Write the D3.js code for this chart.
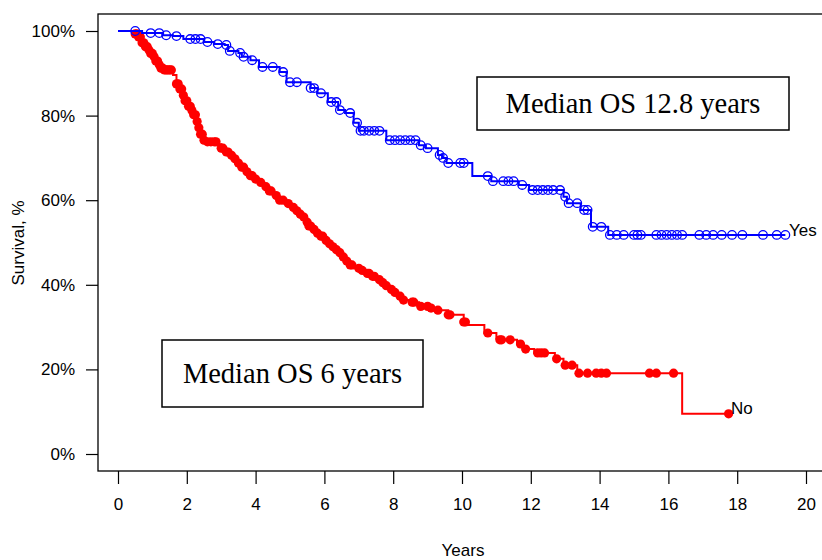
<!DOCTYPE html>
<html>
<head>
<meta charset="utf-8">
<script src="https://cdn.jsdelivr.net/npm/d3@7"></script>
<style>
  body { margin: 0; background: #fff; }
</style>
</head>
<body>
<script>
var width = 822,
    height = 560;

// Kaplan-Meier steps: [time (years), survival % after the drop]
var yesSteps = [[0,100],[0.7,99.5],[1.3,99],[1.6,98.8],[1.9,98.1],[2.5,97.4],[2.8,96.9],[3.1,96.7],
  [3.2,95.3],[3.5,94.8],[3.6,93.9],[3.85,93.1],[4.1,91.5],[4.7,90.3],[4.9,87.9],[5.6,86.5],[5.8,85.3],
  [6.1,83.2],[6.4,81.3],[6.6,80.6],[6.85,78.3],[7.0,76.4],[7.8,74.2],[8.75,73.0],[8.95,72.3],[9.3,70.7],
  [9.42,70.0],[9.55,68.8],[10.3,65.7],[10.85,64.5],[11.65,63.6],[11.95,62.4],[12.95,60.8],[13.05,59.3],
  [13.45,57.7],[13.75,53.7],[14.25,51.8]];
var yesCensor = [0.5,0.95,1.2,1.4,1.7,2.1,2.25,2.4,2.6,2.9,3.15,3.25,3.55,3.65,3.9,4.2,4.5,4.8,5.0,5.2,
  5.6,5.7,5.9,6.2,6.35,6.45,6.75,6.95,7.05,7.15,7.3,7.45,7.6,7.9,8.05,8.2,8.35,8.5,8.65,8.8,9.0,9.35,9.45,
  9.6,9.95,10.05,10.75,10.9,11.2,11.35,11.5,11.75,12.05,12.2,12.35,12.5,12.65,12.85,13.0,13.1,13.35,13.55,
  13.65,13.8,14.05,14.3,14.5,14.7,15.0,15.1,15.2,15.65,15.8,15.95,16.1,16.25,16.4,16.9,17.1,17.3,17.55,
  17.85,18.15,18.75,19.15,19.4];

var noSteps = [[0,100],[0.45,99.3],[0.6,98.6],[0.7,97.2],[0.8,96.3],[0.87,95.5],[0.95,94.7],[1.02,93.9],
  [1.1,92.9],[1.16,92.0],[1.25,91.2],[1.31,90.8],[1.6,89.6],[1.7,87.5],[1.78,86.3],[1.86,84.8],[1.95,83.5],
  [2.05,82.2],[2.12,81.2],[2.2,80.2],[2.28,78.6],[2.33,77.1],[2.4,75.6],[2.47,74.2],[2.55,73.8],[2.9,73.2],
  [3.0,72.3],[3.1,71.4],[3.25,70.6],[3.35,69.8],[3.45,68.8],[3.55,67.8],[3.68,66.7],[3.8,65.8],[3.95,65.0],
  [4.1,64.2],[4.25,63.2],[4.36,62.2],[4.5,61.1],[4.65,60.0],[4.85,59.2],[5.05,58.3],[5.15,57.5],[5.25,56.7],
  [5.35,56.0],[5.45,54.8],[5.52,53.9],[5.62,53.1],[5.75,52.2],[5.87,51.5],[6.0,50.5],[6.1,49.7],[6.2,49.0],
  [6.3,48.3],[6.4,47.6],[6.5,46.6],[6.6,45.6],[6.7,44.7],[6.85,43.9],[7.03,43.4],[7.2,42.7],[7.35,42.0],
  [7.5,41.2],[7.65,40.5],[7.76,39.8],[7.9,38.9],[8.0,38.2],[8.13,37.3],[8.26,36.4],[8.5,35.9],[8.75,34.9],
  [9.05,34.5],[9.25,34.0],[9.6,32.9],[10.05,31.2],[10.15,30.5],[10.65,28.6],[11.0,27.3],[11.1,27.0],
  [11.6,26.0],[11.8,24.8],[12.1,23.9],[12.7,22.5],[12.95,21.0],[13.35,19.1],[16.4,9.5]];
var noCensor = [0.5,0.55,0.6,0.65,0.7,0.75,0.8,0.85,0.9,0.95,1.0,1.05,1.1,1.15,1.2,1.25,1.3,1.35,1.4,1.45,
  1.5,1.55,1.7,1.75,1.8,1.85,1.9,1.95,2.0,2.05,2.1,2.15,2.2,2.25,2.3,2.35,2.4,2.45,2.5,2.6,2.7,2.8,2.85,
  3.0,3.05,3.15,3.2,3.3,3.4,3.5,3.6,3.65,3.75,3.85,3.9,4.0,4.15,4.3,4.4,4.45,4.6,4.7,4.8,4.95,5.1,5.2,
  5.3,5.4,5.5,5.55,5.6,5.7,5.8,5.9,5.95,6.05,6.15,6.25,6.35,6.45,6.55,6.65,6.75,6.8,7.0,7.1,7.25,7.3,
  7.4,7.45,7.6,7.7,7.8,7.95,8.05,8.2,8.3,8.55,8.6,8.8,9.0,9.1,9.3,9.6,9.65,10.05,10.1,10.75,11.1,11.15,
  11.4,11.7,11.85,12.2,12.3,12.4,12.75,13.0,13.2,13.4,13.65,13.9,14.05,14.2,15.45,15.65,16.15,17.75];

var xTicks = d3.range(0, 21, 2);
var yTicks = [0, 20, 40, 60, 80, 100];

var svg = d3.select("body").append("svg")
    .attr("width", width)
    .attr("height", height)
    .style("font-family", "Liberation Sans, Arial, sans-serif");

var x = d3.scaleLinear().domain([0, 20]).range([118, 806]);
var y = d3.scaleLinear().domain([0, 100]).range([454, 31]);

// plot frame
svg.append("rect")
    .attr("x", 98).attr("y", 14)
    .attr("width", 730).attr("height", 457)
    .attr("fill", "none").attr("stroke", "#000").attr("stroke-width", 1.3);

// axes
svg.append("g")
    .attr("transform", "translate(0,471)")
    .call(d3.axisBottom(x).tickValues(xTicks).tickSize(13).tickPadding(14).tickSizeOuter(0));
svg.append("g")
    .attr("transform", "translate(98,0)")
    .call(d3.axisLeft(y).tickValues(yTicks).tickFormat(function(d){ return d + "%"; })
      .tickSize(12).tickPadding(11).tickSizeOuter(0));
svg.selectAll(".domain").remove();
svg.selectAll(".tick line").attr("stroke", "#000").attr("stroke-width", 1.2);
svg.selectAll(".tick text")
    .style("font-family", "Liberation Sans, Arial, sans-serif")
    .attr("font-size", 17).attr("fill", "#000");

svg.append("text")
    .attr("x", 463).attr("y", 556)
    .attr("text-anchor", "middle").attr("font-size", 17)
    .text("Years");
svg.append("text")
    .attr("transform", "translate(24,243) rotate(-90)")
    .attr("text-anchor", "middle").attr("font-size", 17)
    .text("Survival, %");

function survAt(steps, t) {
  var i = d3.bisector(function(d){ return d[0]; }).right(steps, t) - 1;
  return steps[Math.max(i, 0)][1];
}

function drawCurve(steps, censor, color, filled) {
  var last = d3.max(censor);
  var pts = steps.concat([[last, survAt(steps, last)]]);
  var line = d3.line()
      .x(function(d){ return x(d[0]); })
      .y(function(d){ return y(d[1]); })
      .curve(d3.curveStepAfter);
  svg.append("path")
      .datum(pts)
      .attr("d", line)
      .attr("fill", "none")
      .attr("stroke", color)
      .attr("stroke-width", 2);
  svg.append("g").selectAll("circle")
      .data(censor)
    .enter().append("circle")
      .attr("cx", function(d){ return x(d); })
      .attr("cy", function(d){ return y(survAt(steps, d)); })
      .attr("r", filled ? 4.6 : 4.3)
      .attr("fill", filled ? color : "none")
      .attr("stroke", color)
      .attr("stroke-width", filled ? 0 : 1.3);
}

drawCurve(noSteps, noCensor, "#ff0000", true);
drawCurve(yesSteps, yesCensor, "#0000ff", false);

svg.append("text")
    .attr("x", 789).attr("y", 236)
    .attr("font-size", 17)
    .text("Yes");
svg.append("text")
    .attr("x", 731).attr("y", 414)
    .attr("font-size", 17)
    .text("No");

// annotation boxes
var boxes = [
  {x: 477, y: 77, w: 312, h: 53, label: "Median OS 12.8 years"},
  {x: 162, y: 340, w: 261, h: 67, label: "Median OS 6 years"}
];
var bx = svg.selectAll(".note").data(boxes).enter().append("g").attr("class", "note");
bx.append("rect")
    .attr("x", function(d){ return d.x; })
    .attr("y", function(d){ return d.y; })
    .attr("width", function(d){ return d.w; })
    .attr("height", function(d){ return d.h; })
    .attr("fill", "#fff").attr("stroke", "#000").attr("stroke-width", 1.5);
bx.append("text")
    .attr("x", function(d){ return d.x + d.w / 2; })
    .attr("y", function(d){ return d.y + d.h / 2 + 9; })
    .attr("text-anchor", "middle")
    .style("font-family", "Liberation Serif, Times New Roman, serif")
    .attr("font-size", 28.5)
    .text(function(d){ return d.label; });
</script>
</body>
</html>
